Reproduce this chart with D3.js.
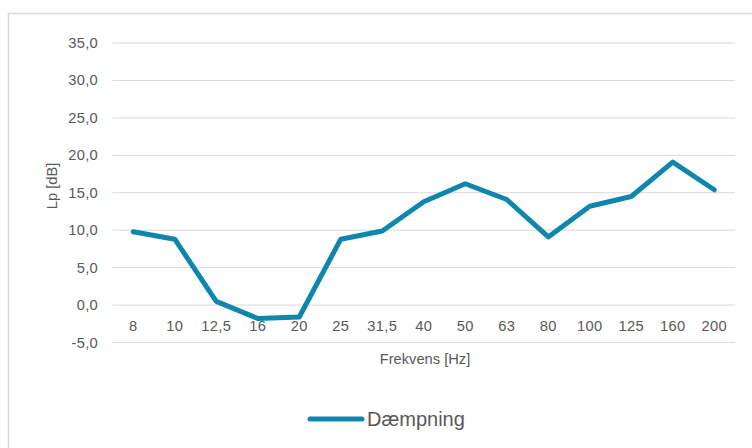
<!DOCTYPE html>
<html>
<head>
<meta charset="utf-8">
<script src="https://cdn.jsdelivr.net/npm/d3@7"></script>
<style>
  body { margin: 0; background: #fff; }
  text { font-family: "Liberation Sans", Arial, sans-serif; }
</style>
</head>
<body>
<div id="chart"></div>
<script>
const categories = ["8", "10", "12,5", "16", "20", "25", "31,5", "40", "50", "63", "80", "100", "125", "160", "200"]
const daempning = [9.8, 8.8, 0.5, -1.8, -1.6, 8.8, 9.9, 13.8, 16.2, 14.1, 9.1, 13.2, 14.5, 19.1, 15.4]
const yTicks = [-5, 0, 5, 10, 15, 20, 25, 30, 35]
const seriesName = "Dæmpning"

const svg = d3.select("#chart").append("svg")
  .attr("width", 752)
  .attr("height", 448)

// chart frame (only top/left visible in the picture)
svg.append("rect")
  .attr("x", 8.5).attr("y", 13.5)
  .attr("width", 760).attr("height", 460)
  .attr("fill", "none")
  .attr("stroke", "#d9d9d9")
  .attr("stroke-width", 1.5)

var x = d3.scalePoint()
  .domain(categories)
  .range([112.5, 735])
  .padding(0.5)

var y = d3.scaleLinear()
  .domain([-5, 35])
  .range([342.5, 43])

// gridlines
svg.append("g").selectAll("line")
  .data(yTicks)
  .enter().append("line")
    .attr("x1", 112.5).attr("x2", 735)
    .attr("y1", d => y(d)).attr("y2", d => y(d))
    .attr("stroke", "#d9d9d9")
    .attr("stroke-width", 1)

// y tick labels (danish decimal comma, plain hyphen for minus)
svg.append("g").selectAll("text")
  .data(yTicks)
  .enter().append("text")
    .attr("x", 98)
    .attr("y", d => y(d) + 5)
    .attr("text-anchor", "end")
    .attr("font-size", "14.7px")
    .attr("letter-spacing", "0.3px")
    .attr("fill", "#595959")
    .text(d => d.toFixed(1).replace(".", ","))

// x tick labels, sitting just under the 0 line
svg.append("g").selectAll("text")
  .data(categories)
  .enter().append("text")
    .attr("x", d => x(d))
    .attr("y", y(0) + 25.5)
    .attr("text-anchor", "middle")
    .attr("font-size", "14.7px")
    .attr("letter-spacing", "0.3px")
    .attr("fill", "#595959")
    .text(d => d)

// axis titles
svg.append("text")
  .attr("x", 425)
  .attr("y", 363.5)
  .attr("text-anchor", "middle")
  .attr("font-size", "14.7px")
  .attr("fill", "#595959")
  .text("Frekvens [Hz]")

svg.append("text")
  .attr("transform", "translate(57,186) rotate(-90)")
  .attr("text-anchor", "middle")
  .attr("font-size", "14.7px")
  .attr("fill", "#595959")
  .text("Lp [dB]")

// series line
var line = d3.line()
  .x((d, i) => x(categories[i]))
  .y(d => y(d))

svg.append("path")
  .datum(daempning)
  .attr("d", line)
  .attr("fill", "none")
  .attr("stroke", "#0F87AC")
  .attr("stroke-width", 5)
  .attr("stroke-linejoin", "round")
  .attr("stroke-linecap", "round")

// legend
svg.append("line")
  .attr("x1", 310).attr("x2", 362)
  .attr("y1", 419).attr("y2", 419)
  .attr("stroke", "#0F87AC")
  .attr("stroke-width", 5)
  .attr("stroke-linecap", "round")

svg.append("text")
  .attr("x", 367)
  .attr("y", 426)
  .attr("font-size", "20px")
  .attr("fill", "#595959")
  .text(seriesName)
</script>
</body>
</html>
